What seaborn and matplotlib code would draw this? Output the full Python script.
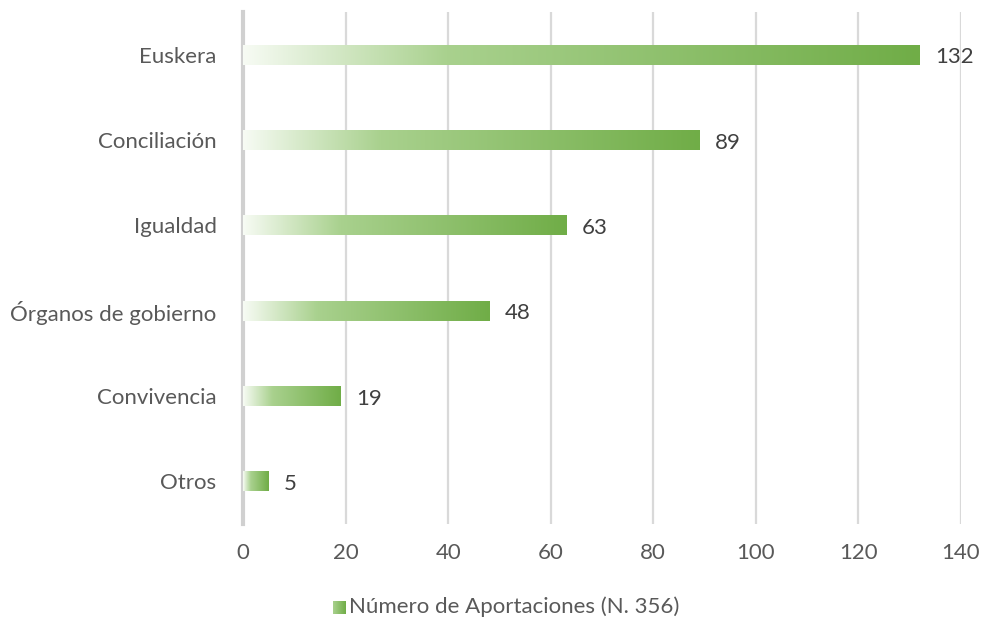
import numpy as np
import pandas as pd
import matplotlib
matplotlib.use("Agg")
import matplotlib.pyplot as plt
from matplotlib.colors import LinearSegmentedColormap
import seaborn as sns

categories = ["Euskera", "Conciliación", "Igualdad", "Órganos de gobierno", "Convivencia", "Otros"]
values = [132, 89, 63, 48, 19, 5]
xticks = [0, 20, 40, 60, 80, 100, 120, 140]
series_name = "Número de Aportaciones (N. 356)"

sns.set_theme(style="white")
plt.rcParams["font.family"] = ["Lato", "DejaVu Sans"]

df = pd.DataFrame({"cat": categories, "val": values})

fig = plt.figure(figsize=(9.81, 6.19), dpi=100)
ax = fig.add_axes([243 / 981, 1 - 524 / 619, 718 / 981, 512 / 619])

sns.barplot(data=df, x="val", y="cat", orient="h", ax=ax, width=0.235,
            color="#70ad47", saturation=1)

cmap = LinearSegmentedColormap.from_list(
    "g", [(0, "#f7fbf4"), (0.3, "#a9d18e"), (1, "#70ad47")])
grad = np.linspace(0, 1, 256).reshape(1, -1)

for p in list(ax.patches):
    x0, y0 = p.get_x(), p.get_y()
    w, h = p.get_width(), p.get_height()
    p.set_facecolor("none")
    p.set_edgecolor("none")
    im = ax.imshow(grad, cmap=cmap, aspect="auto",
                   extent=[x0, x0 + w, y0 + h, y0], zorder=3,
                   interpolation="bilinear")
    im.set_clip_path(p)
    ax.text(x0 + w + 3.0, y0 + h / 2 + 0.03, f"{int(w)}", va="center", ha="left",
            fontsize=16, color="#404040", zorder=4)

ax.set_xlim(0, 140)
ax.set_ylim(5.5, -0.5)
ax.set_xticks(xticks)
ax.set_xticklabels([str(t) for t in xticks])
ax.tick_params(axis="x", labelsize=16, labelcolor="#595959", length=0, pad=14)
ax.tick_params(axis="y", labelsize=16, labelcolor="#595959", length=0, pad=19)
ax.set_xlabel("")
ax.set_ylabel("")
ax.grid(False)
for t in xticks[1:]:
    ax.axvline(t, color="#d9d9d9", lw=1.6, zorder=0)
for s in ["top", "right", "bottom"]:
    ax.spines[s].set_visible(False)
ax.spines["left"].set_color("#d0d0d0")
ax.spines["left"].set_linewidth(3)

# legend with gradient swatch
lax = fig.add_axes([333 / 981, 1 - 614 / 619, 13 / 981, 13 / 619])
lax.imshow(grad, cmap=LinearSegmentedColormap.from_list(
    "g2", ["#a9d18e", "#70ad47"]), aspect="auto", extent=[0, 1, 0, 1])
lax.set_axis_off()
fig.text(349 / 981, 1 - 607 / 619, series_name, fontsize=16, color="#595959",
         va="center", ha="left")

fig.savefig("out.png", dpi=100)
